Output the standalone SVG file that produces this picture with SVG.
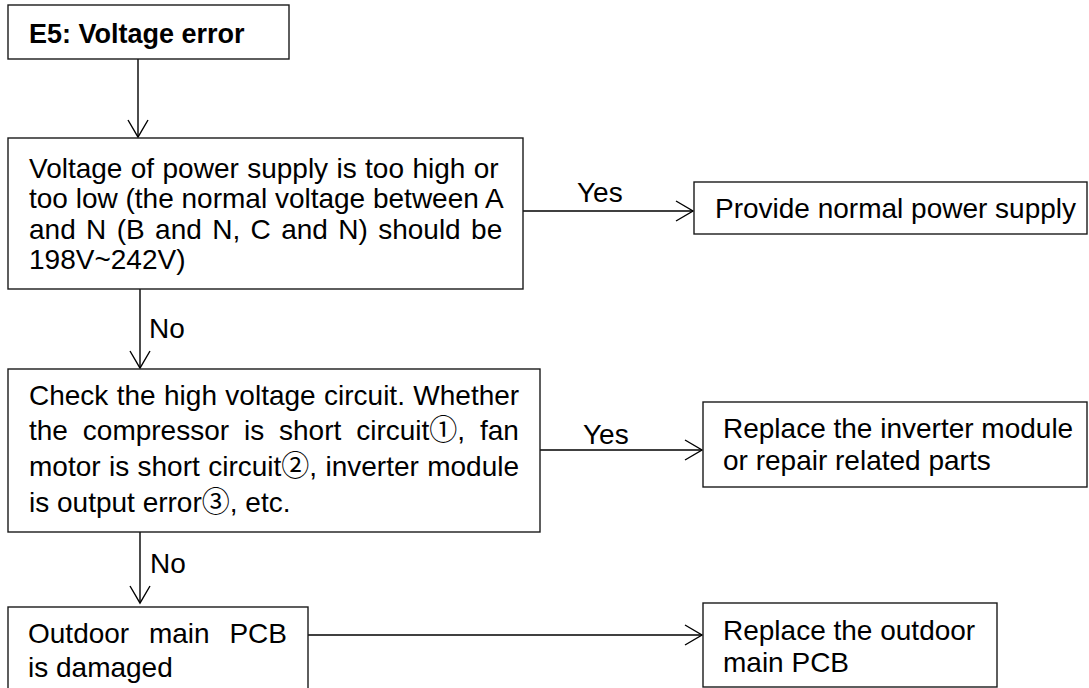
<svg xmlns="http://www.w3.org/2000/svg" width="1089" height="688" viewBox="0 0 1089 688">
<style>
.box{fill:#fff;stroke:#1a1a1a;stroke-width:1.4}
.t{font-family:"Liberation Sans",Arial,"Noto Sans CJK SC",sans-serif;font-size:28px;fill:#000}
.b{font-weight:bold;font-size:27px}
.c{fill:none;stroke:#000;stroke-width:1.4}
</style>
<defs>
<marker id="ah" markerUnits="userSpaceOnUse" markerWidth="22" markerHeight="24" viewBox="-19 -12 22 24" refX="0" refY="0" orient="auto" overflow="visible">
<path d="M-17,-10 L0,0 L-17,10" fill="none" stroke="#000" stroke-width="1.4"/>
</marker>
</defs>
<rect width="1089" height="688" fill="#fff"/>
<g id="connectors">
<line class="c" x1="138" y1="59" x2="138" y2="137" marker-end="url(#ah)"/>
<line class="c" x1="523" y1="211" x2="693" y2="211" marker-end="url(#ah)"/>
<text class="t" x="577" y="202">Yes</text>
<line class="c" x1="140" y1="289" x2="140" y2="368" marker-end="url(#ah)"/>
<text class="t" x="149" y="338">No</text>
<line class="c" x1="540" y1="450" x2="702" y2="450" marker-end="url(#ah)"/>
<text class="t" x="583" y="444">Yes</text>
<line class="c" x1="140" y1="532" x2="140" y2="603" marker-end="url(#ah)"/>
<text class="t" x="150" y="573">No</text>
<line class="c" x1="308" y1="635" x2="702" y2="635" marker-end="url(#ah)"/>
</g>
<g id="n1">
<rect class="box" x="8" y="5" width="281" height="54"/>
<text class="t b" x="29" y="43">E5: Voltage error</text>
</g>
<g id="n2">
<rect class="box" x="8" y="138" width="515" height="151"/>
<text class="t" x="29" y="178" word-spacing="0.6">Voltage of power supply is too high or</text>
<text class="t" x="29" y="208">too low (the normal voltage between A</text>
<text class="t" x="29" y="239" word-spacing="2.6">and N (B and N, C and N) should be</text>
<text class="t" x="29" y="269">198V~242V)</text>
</g>
<g id="n3">
<rect class="box" x="694" y="182" width="393" height="52"/>
<text class="t" x="715" y="218">Provide normal power supply</text>
</g>
<g id="n4">
<rect class="box" x="8" y="369" width="532" height="163"/>
<text class="t" x="29" y="405" word-spacing="0.6">Check the high voltage circuit. Whether</text>
<text class="t" x="29" y="440" word-spacing="7.1">the compressor is short circuit①, fan</text>
<text class="t" x="29" y="476" word-spacing="0.6">motor is short circuit②, inverter module</text>
<text class="t" x="29" y="512">is output error③, etc.</text>
</g>
<g id="n5">
<rect class="box" x="703" y="402" width="384" height="85"/>
<text class="t" x="723" y="438">Replace the inverter module</text>
<text class="t" x="723" y="470">or repair related parts</text>
</g>
<g id="n6">
<rect class="box" x="8" y="607" width="300" height="90"/>
<text class="t" x="28" y="643" word-spacing="12">Outdoor main PCB</text>
<text class="t" x="28" y="677">is damaged</text>
</g>
<g id="n7">
<rect class="box" x="703" y="603" width="294" height="84"/>
<text class="t" x="723" y="640">Replace the outdoor</text>
<text class="t" x="723" y="672">main PCB</text>
</g>
</svg>
